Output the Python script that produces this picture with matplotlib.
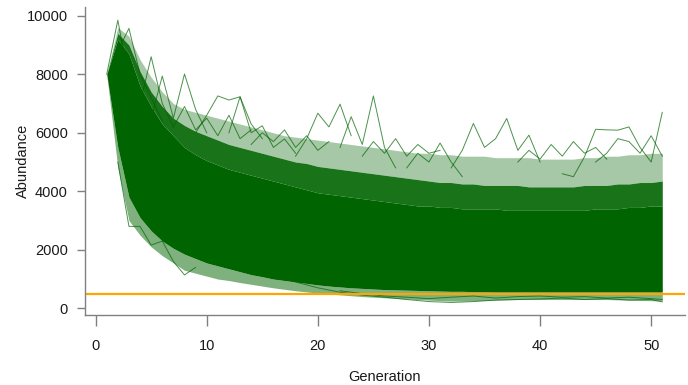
import numpy as np
import matplotlib
matplotlib.use("Agg")
import matplotlib.pyplot as plt

plt.rcParams['font.family'] = ['Liberation Sans', 'DejaVu Sans']

# generations 1..51
gen = list(range(1, 52))

# band edges (abundance per generation)
core_hi = [8000, 9200, 8700, 7600, 6900, 6300, 5900, 5500, 5250, 5050,
           4900, 4750, 4650, 4550, 4450, 4350, 4250, 4150, 4050, 3950,
           3900, 3850, 3800, 3750, 3700, 3650, 3600, 3550, 3500, 3500,
           3450, 3450, 3400, 3400, 3400, 3400, 3350, 3350, 3350, 3350,
           3350, 3350, 3350, 3350, 3400, 3400, 3400, 3450, 3450, 3500, 3500]
mid_hi = [8000, 9400, 9000, 8100, 7400, 6900, 6500, 6250, 6050, 5900,
          5750, 5600, 5500, 5400, 5300, 5200, 5100, 5000, 4950, 4850,
          4800, 4750, 4700, 4650, 4600, 4550, 4500, 4450, 4400, 4350,
          4300, 4300, 4250, 4250, 4200, 4200, 4200, 4200, 4150, 4150,
          4150, 4150, 4150, 4200, 4200, 4200, 4250, 4250, 4300, 4300, 4350]
env_hi = [8000, 9600, 9300, 8500, 7900, 7400, 7000, 6800, 6700, 6600,
          6500, 6400, 6300, 6200, 6100, 6000, 5900, 5850, 5800, 5750,
          5700, 5650, 5600, 5550, 5500, 5450, 5400, 5350, 5300, 5300,
          5250, 5250, 5200, 5200, 5200, 5150, 5150, 5150, 5150, 5100,
          5100, 5100, 5100, 5150, 5150, 5200, 5200, 5250, 5250, 5300, 5300]
core_lo = [8000, 5500, 3800, 3100, 2650, 2300, 2050, 1850, 1700, 1550,
           1450, 1350, 1250, 1150, 1080, 1000, 950, 900, 850, 800,
           760, 730, 700, 680, 660, 640, 630, 620, 610, 600,
           590, 580, 580, 570, 570, 560, 560, 560, 560, 560,
           560, 560, 560, 560, 560, 560, 560, 560, 560, 560, 560]
env_lo = [8000, 4800, 3000, 2500, 2100, 1800, 1550, 1300, 1200, 1100,
          1000, 950, 880, 820, 760, 700, 650, 600, 560, 520,
          490, 460, 430, 400, 380, 360, 340, 320, 300, 280,
          260, 250, 250, 260, 270, 280, 290, 300, 300, 300,
          300, 300, 300, 300, 300, 300, 290, 280, 270, 260, 250]

# single runs that stick out of the band
outliers = [
    ([1, 2, 3, 4, 5], [8000, 9850, 7800, 6900, 6000]),
    ([2, 3, 4, 5, 6], [8800, 9570, 8000, 7200, 6400]),
    ([4, 5, 6, 7], [7000, 8600, 7000, 6200]),
    ([5, 6, 7, 8, 9, 10], [6500, 7940, 6500, 8010, 6800, 6000]),
    ([9, 10, 11, 12, 13, 14, 15], [6000, 6600, 7260, 7120, 7230, 6300, 5800]),
    ([12, 13, 14, 15, 16, 17, 18], [6000, 7230, 6000, 6240, 5500, 5790, 5300]),
    ([18, 19, 20, 21, 22, 23], [5200, 5800, 6670, 6200, 6980, 5900]),
    ([22, 23, 24, 25, 26, 27], [5500, 6550, 5600, 7260, 5500, 4800]),
    ([28, 29, 30, 31, 32, 33], [4800, 5300, 5000, 5650, 5000, 4500]),
    ([32, 33, 34, 35, 36, 37, 38, 39, 40], [4800, 5400, 6320, 5500, 5800, 6490, 5400, 5920, 5000]),
    ([42, 43, 44, 45, 46, 47, 48, 49, 50, 51], [4600, 4500, 5180, 6120, 6100, 6090, 6200, 5500, 5000, 6700]),
    ([7, 8, 9, 10, 11, 12, 13, 14], [6200, 6900, 6100, 6500, 5900, 6600, 5800, 6100]),
    ([14, 15, 16, 17, 18, 19, 20, 21], [5600, 6000, 5700, 6100, 5500, 5900, 5400, 5700]),
    ([24, 25, 26, 27, 28, 29, 30, 31], [5200, 5700, 5300, 5800, 5200, 5600, 5300, 5400]),
    ([38, 39, 40, 41, 42, 43, 44, 45, 46], [5000, 5400, 5100, 5600, 5200, 5700, 5300, 5500, 5100]),
    ([45, 46, 47, 48, 49, 50, 51], [5000, 5300, 5800, 5700, 5300, 5900, 5200]),
    ([2, 3, 4, 5, 6, 7, 8, 9], [5000, 2800, 2800, 2160, 2300, 1600, 1140, 1400]),
    ([18, 20, 22, 24, 26, 28, 30, 32, 34, 36, 38, 40, 42, 44, 46, 48, 50, 51],
     [900, 700, 550, 450, 380, 300, 230, 200, 230, 280, 300, 320, 350, 300, 330, 280, 300, 220]),
    ([22, 24, 26, 28, 30, 32, 34, 36, 38, 40, 42, 44, 46, 48, 50, 51],
     [600, 500, 420, 380, 330, 380, 420, 350, 400, 420, 380, 400, 350, 380, 330, 300]),
]

threshold = 500
green = '#006400'
axis_gray = '#808080'
text_col = '#1a1a1a'

fig = plt.figure(figsize=(6.88, 3.85), dpi=100)
ax = fig.add_axes([84.5 / 688, 70 / 385, 600 / 688, 307.7 / 385])

# spread of the runs, densest part drawn solid
ax.fill_between(gen, mid_hi, env_hi, color=green, alpha=0.35, lw=0)
ax.fill_between(gen, env_lo, core_lo, color=green, alpha=0.5, lw=0)
ax.fill_between(gen, core_hi, mid_hi, color=green, alpha=0.9, lw=0)
ax.fill_between(gen, core_lo, core_hi, color=green, lw=0)

for xs, ys in outliers:
    ax.plot(xs, ys, color=green, lw=0.7, alpha=0.7)

ax.axhline(threshold, color='#FFA500', lw=1.6)

ax.set_xlim(-1, 53)
ax.set_ylim(-229, 10290)
ax.set_xticks([0, 10, 20, 30, 40, 50])
ax.set_yticks([0, 2000, 4000, 6000, 8000, 10000])

for side in ['top', 'right']:
    ax.spines[side].set_visible(False)
for side in ['left', 'bottom']:
    ax.spines[side].set_color(axis_gray)
    ax.spines[side].set_linewidth(1)

ax.tick_params(axis='y', direction='out', length=6, width=1, color=axis_gray,
               pad=6, labelsize=10.5, labelcolor=text_col)
ax.tick_params(axis='x', direction='out', length=8, width=1, color=axis_gray,
               pad=9, labelsize=10.5, labelcolor=text_col)

ax.set_xlabel('Generation', fontsize=10.5, color=text_col, va='center')
ax.set_ylabel('Abundance', fontsize=10.5, color=text_col, va='center')
ax.xaxis.set_label_coords(0.5, (315 - 377) / 307.7)
ax.yaxis.set_label_coords((22.7 - 84.5) / 600, 0.5)

fig.savefig('out.png', dpi=100)
